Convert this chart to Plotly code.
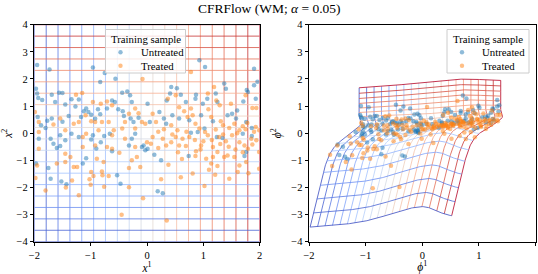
import numpy as np
import plotly.graph_objects as go

# ---------------- text ----------------
TITLE = "CFRFlow (WM; <i>α</i> = 0.05)"
LEGEND_TITLE = "Training sample"
NAME_UNTREATED = "Untreated"
NAME_TREATED = "Treated"
X_TICKS = [-2, -1, 0, 1, 2]
Y_TICKS = [-4, -3, -2, -1, 0, 1, 2, 3, 4]
X_RANGE = [-2, 2]
Y_RANGE = [-4, 4]
LABELS_LEFT = ("<i>x</i><sup>1</sup>", "<i>x</i><sup>2</sup>")
LABELS_RIGHT = ("<i>ϕ</i><sup>1</sup>", "<i>ϕ</i><sup>2</sup>")

# ---------------- grid lines (original coordinates) ----------------
GRID_X1 = [-2.0, -1.789, -1.579, -1.368, -1.158, -0.947, -0.737, -0.526, -0.316, -0.105,
           0.105, 0.316, 0.526, 0.737, 0.947, 1.158, 1.368, 1.579, 1.789, 2.0]
GRID_X2 = [-4.0, -3.579, -3.158, -2.737, -2.316, -1.895, -1.474, -1.053, -0.632, -0.211,
           0.211, 0.632, 1.053, 1.474, 1.895, 2.316, 2.737, 3.158, 3.579, 4.0]

# ---------------- training sample ----------------
UNTREATED_X1 = [-1.95, -1.73, -0.96, -0.75, -0.83, -0.56, -1.97, -1.69, -1.56, -1.50, -1.34, -1.45, -1.21,
                -1.27, -1.12, -1.08, -1.04, -0.99, -1.17, -0.92, -0.87, -0.83, -0.71, -0.62, -0.57, -0.44,
                -0.35, -0.30, -0.27, -0.51, -0.43, -0.41, -0.29, -0.24, -0.15, -1.94, -1.77, -1.88, -1.69,
                -1.50, -1.39, -1.80, -1.63, -1.95, -1.93, -1.86,
                0.93, 1.03, 1.90, 0.01, 0.43, 0.41, 0.35, 0.60, 0.69, 0.87, 0.86, 0.99, 1.07, 1.22, 1.25,
                1.37, 1.40, 1.51, 1.60, 1.71, 1.79, 1.90, 1.93, 0.22, 0.30, 0.34, 0.45, 0.57, 0.75, 0.96,
                1.02, 1.17, 1.43, 1.58, 1.76, 1.86, 0.05, 1.96, 1.77, 0.53,
                -1.92, -1.97, -1.71, -1.66, -1.60, -1.54, -1.45, -1.34, -1.21, -1.75, -1.71, -1.52, -1.43,
                -1.14, -1.08, -0.99, -0.96, -0.82, -0.76, -0.66, -0.62, -0.53, -0.47, -0.32, -0.27, -0.09,
                -0.03, -0.06, -0.21, -1.54, -0.90,
                0.01, 0.13, 0.25, 0.19, 0.28, 0.74, 0.78, 0.90, 1.34, 1.70, 1.76, 1.86, 1.24, 1.73]
UNTREATED_X2 = [2.51, 2.35, 2.42, 2.22, 1.89, 2.01, 1.64, 1.42, 1.49, 1.48, 1.25, 1.06, 1.24,
                0.98, 0.81, 0.91, 0.78, 0.68, 0.60, 0.53, 0.88, 0.70, 0.91, 1.21, 1.15, 1.49,
                1.54, 1.40, 1.15, 0.88, 0.81, 0.63, 0.54, 0.41, 0.57, 0.60, 0.46, 0.29, 0.54,
                0.42, 0.63, 0.19, 1.15, 1.46, 1.30, 1.22,
                2.69, 2.44, 2.38, 1.09, 1.70, 1.46, 1.21, 1.42, 1.15, 1.42, 1.27, 1.09, 1.27, 1.46, 1.15,
                1.83, 1.64, 0.72, 0.84, 1.17, 1.52, 1.77, 1.27, 0.78, 0.54, 0.35, 0.66, 0.54, 0.48, 0.66,
                0.17, 0.44, 0.66, 0.54, 0.41, 0.19, 0.41, 1.90, 1.59, 1.66,
                -0.20, -1.12, -0.20, -0.39, -0.55, -0.47, -0.26, -0.02, -0.14, -1.28, -1.68, -1.78, -1.88,
                -1.12, -0.92, -0.23, -0.08, -0.33, -0.10, -0.02, -0.67, -1.55, -1.86, -0.45, -0.20, -0.51,
                -0.63, -0.45, -0.02, -0.08, -0.56,
                -0.57, -0.79, -1.00, -2.14, -2.21, -0.84, 0.02, 0.04, -0.18, -0.02, -0.69, -0.10, -0.14, -0.84]

TREATED_X1 = [-1.15, -0.96, -1.09, -1.21, -0.99, -0.82, -0.71, -0.62, -0.80, -0.68, -0.32, -0.15, -0.21,
              -0.09, -1.92, -1.99, -1.66, -1.54, -1.45, -1.30, -0.92, -0.86, -0.59, -0.44, -0.39, -0.21,
              -0.03, -1.26, -0.08,
              0.78, 1.19, 1.08, 1.23, 1.29, 1.49, 1.75, 1.87, 1.94, 0.51, 0.37, 0.57, 0.66, 0.78, 0.81,
              1.09, 1.14, 1.31, 1.35, 1.55, 1.70, 1.78, 1.93, 1.99, 0.10, 0.16, 0.43, 0.54, 0.86, 0.93,
              1.03, 1.22, 1.46, 1.64, 0.72,
              -1.92, -1.95, -1.98, -1.80, -1.60, -1.45, -1.36, -1.30, -1.24, -1.33, -1.21, -1.14, -0.99,
              -0.95, -1.00, -0.92, -0.80, -0.79, -0.77, -0.68, -0.71, -0.62, -0.49, -0.45, -0.32, -0.32,
              -0.27, -0.18, -0.12, -0.21, -0.39, -0.89, -1.08, -1.45, -1.92, -1.14, -0.62, 0.00,
              -1.44, -1.02, -0.76, -0.07,
              0.07, 0.10, 0.28, 0.34, 0.38, 0.25, 0.35, 0.60, 0.57, 0.63, 0.69, 0.81, 0.86, 0.87, 1.02,
              1.05, 0.96, 1.14, 1.21, 1.17, 1.25, 1.37, 1.43, 1.55, 1.61, 1.64, 1.57, 1.51, 1.73, 1.76,
              1.79, 1.94, 1.99, 1.99, 1.46, 1.08, 1.40, 0.51, 0.43, 1.87, 1.64, 0.75, 1.17, 1.28,
              1.25, 1.80, 0.20, 0.45, 0.85, 1.00, 1.30, 1.60, 1.85, 0.30, 0.70, 1.15, 1.45, 1.70, 1.90,
              0.95, 0.55, 0.20, 1.35, 1.75, 0.62, 1.10]
TREATED_X2 = [1.48, 1.15, 0.66, 0.41, 0.44, 1.09, 1.17, 1.03, 0.41, 0.41, 0.72, 0.74, 0.91,
              0.41, 0.41, 0.78, 0.32, 0.54, 0.11, 0.35, 0.41, 0.11, 0.11, 0.17, 0.41, 0.17,
              0.35, 1.42, 2.00,
              2.26, 1.70, 1.46, 1.21, 1.03, 1.09, 1.40, 0.93, 0.93, 1.40, 1.27, 0.96, 0.81, 0.91, 0.66,
              0.88, 0.60, 0.44, 0.29, 0.35, 0.26, 0.38, 0.23, 0.11, 0.72, 0.41, 0.29, 0.11, 0.35, 0.17,
              0.04, 0.14, 0.19, 0.11, 0.60,
              -0.57, -1.19, -1.65, -2.11, -1.12, -1.06, -0.88, -1.25, -1.25, -1.74, -2.29, -0.51, -1.43,
              -1.58, -1.90, -0.45, -1.41, -1.55, -1.06, -1.58, -0.51, -0.57, -0.72, -3.01, -1.99, -1.28,
              -1.00, -0.88, -1.25, -0.51, -0.20, -0.94, -0.02, -0.76, 0.04, -0.14, -0.08, -0.33,
              -2.00, -1.70, -1.97, -2.40,
              -0.39, -0.14, -0.20, -0.45, -1.16, -1.70, -3.22, -1.62, -0.45, -0.20, -0.47, -1.49, -0.84,
              -0.67, -1.95, -0.94, -0.45, -1.12, -1.53, -0.88, -0.69, -0.88, -0.82, -0.88, -1.43, -1.19,
              -0.60, -0.08, -0.45, -1.06, -0.57, -0.26, -0.69, -1.31, -1.68, -0.08, -0.30, -0.14, -0.33,
              -0.42, -0.33, -0.14, -0.51, -0.14,
              -1.21, -1.48, 0.05, -0.05, -0.25, -0.30, -0.40, 0.00, -0.20, 0.15, 0.05, -0.25, -0.50,
              -0.70, 0.05, -0.60, -0.70, -0.55, -0.05, 0.15, -0.95, -1.35]

# ---------------- learned map phi (parameters estimated from the warped grid) ----------------
G_C, G_SLOPE_HI, G_SLOPE_LO, G_YC, G_W = 0.15, 0.38, 1.25, -1.6, 0.5
G_CURV = 0.03
T_YC, T_W = -0.75, 0.42
HUMP_BOTTOM = dict(tilt=0.09, amp=0.47, xp=1.14, sl=1.2, sr=0.6)
HUMP_TOP = dict(tilt=0.06, amp=0.15, xp=0.8, sl=1.5, sr=1.0)
DIP_AMP, DIP_X, DIP_SX, DIP_Y, DIP_SY = 0.2, 0.2, 1.3, 0.6, 1.3
C_BASE, C_DRIFT, D_YC, D_W, C_JUMP, C_SCALE = -0.394, 0.14, -1.6, 0.5, 0.53, 0.625
BUMP_AMP, BUMP_Y, BUMP_W = 0.05, 0.6, 0.5


def softplus(z):
    return np.logaddexp(0.0, z)


def sigmoid(z):
    return 1.0 / (1.0 + np.exp(-z))


def hump(x, p):
    s = np.where(x < p["xp"], p["sl"], p["sr"])
    return p["tilt"] * (x + 2.0) + p["amp"] * np.exp(-((x - p["xp"]) / s) ** 2)


def phi(x, y):
    x = np.asarray(x, dtype=float)
    y = np.asarray(y, dtype=float)
    up = np.clip(y - 0.2, 0, None)
    g = (G_C + G_SLOPE_HI * y - (G_SLOPE_LO - G_SLOPE_HI) * G_W * softplus(-(y - G_YC) / G_W)
         + G_CURV * (up ** 2 - 3.8 * up))
    t = sigmoid((y - T_YC) / T_W)
    h = (1 - t) * hump(x, HUMP_BOTTOM) + t * hump(x, HUMP_TOP)
    dip = DIP_AMP * np.exp(-((x - DIP_X) / DIP_SX) ** 2) * np.exp(-((y - DIP_Y) / DIP_SY) ** 2)
    ylow = -D_W * softplus(-(y - D_YC) / D_W)
    c1 = C_BASE + C_DRIFT * ylow + C_JUMP * t + BUMP_AMP * np.exp(-((y - BUMP_Y) / BUMP_W) ** 2)
    return c1 + C_SCALE * x, g + h - dip


def identity(x, y):
    return np.asarray(x, dtype=float), np.asarray(y, dtype=float)


# ---------------- colours ----------------
COOLWARM = [(0.0, (59, 76, 192)), (0.0625, (77, 104, 215)), (0.125, (98, 130, 234)),
            (0.1875, (119, 154, 247)), (0.25, (141, 176, 254)), (0.3125, (163, 194, 255)),
            (0.375, (184, 208, 249)), (0.4375, (204, 217, 238)), (0.5, (221, 221, 221)),
            (0.5625, (236, 211, 197)), (0.625, (245, 196, 173)), (0.6875, (247, 177, 148)),
            (0.75, (244, 154, 123)), (0.8125, (236, 127, 99)), (0.875, (222, 96, 77)),
            (0.9375, (203, 62, 56)), (1.0, (180, 4, 38))]
LINE_ALPHA = 0.8
C0 = "rgba(31,119,180,0.5)"
C1 = "rgba(255,127,14,0.5)"


def coolwarm(t, alpha=LINE_ALPHA):
    t = min(max(t, 0.0), 1.0)
    for (t0, c0), (t1, c1) in zip(COOLWARM[:-1], COOLWARM[1:]):
        if t <= t1:
            f = (t - t0) / (t1 - t0)
            r, g, b = [c0[i] + f * (c1[i] - c0[i]) for i in range(3)]
            return f"rgba({r:.0f},{g:.0f},{b:.0f},{alpha})"
    return f"rgba(180,4,38,{alpha})"


FONT = "Liberation Serif"
W, H = 538, 274
fig = go.Figure()

N_SAMP = 160
for ax, mapping in (("", identity), ("2", phi)):
    xa, ya = "x" + ax, "y" + ax
    ys = np.linspace(Y_RANGE[0], Y_RANGE[1], N_SAMP)
    xs = np.linspace(X_RANGE[0], X_RANGE[1], N_SAMP)
    for xv in GRID_X1:
        px, py = mapping(np.full_like(ys, xv), ys)
        fig.add_trace(go.Scatter(x=px, y=py, mode="lines", xaxis=xa, yaxis=ya, showlegend=False,
                                 hoverinfo="skip",
                                 line=dict(color=coolwarm((xv - X_RANGE[0]) / (X_RANGE[1] - X_RANGE[0])), width=1)))
    for yv in GRID_X2:
        px, py = mapping(xs, np.full_like(xs, yv))
        fig.add_trace(go.Scatter(x=px, y=py, mode="lines", xaxis=xa, yaxis=ya, showlegend=False,
                                 hoverinfo="skip",
                                 line=dict(color=coolwarm((yv - Y_RANGE[0]) / (Y_RANGE[1] - Y_RANGE[0])), width=1)))
    for name, X1, X2, col in ((NAME_UNTREATED, UNTREATED_X1, UNTREATED_X2, C0),
                              (NAME_TREATED, TREATED_X1, TREATED_X2, C1)):
        px, py = mapping(X1, X2)
        fig.add_trace(go.Scatter(x=px, y=py, mode="markers", name=name, xaxis=xa, yaxis=ya,
                                 showlegend=False, hoverinfo="skip",
                                 marker=dict(color=col, size=4.5, line=dict(width=0))))

L_DOM = [34.3 / W, 259.7 / W]
R_DOM = [309.0 / W, 535.5 / W]
Y_DOM = [(H - 241.7) / H, (H - 24.7) / H]

axis_common = dict(showgrid=False, zeroline=False, showline=True, mirror=True, linecolor="black",
                   linewidth=1, ticks="outside", ticklen=3.5, tickwidth=0.8, tickcolor="black",
                   tickfont=dict(family=FONT, size=10.5, color="black"), fixedrange=True)
title_font = dict(family=FONT, size=11.5, color="black")


# ---------------- legend boxes drawn in page pixels ----------------
def px_x(v):
    return v / W


def px_y(v):
    return 1 - v / H


shapes, annotations = [], []
for box_l, box_r in ((105.5, 185.5), (447.0, 529.0)):
    top, bot = 29.5, 73.0
    cx = (box_l + box_r) / 2
    shapes.append(dict(type="rect", xref="paper", yref="paper", layer="above",
                       x0=px_x(box_l), x1=px_x(box_r), y0=px_y(bot), y1=px_y(top),
                       fillcolor="rgba(255,255,255,0.8)", line=dict(color="rgb(204,204,204)", width=1)))
    annotations.append(dict(text=LEGEND_TITLE, x=px_x(cx), y=px_y(38.5), xref="paper", yref="paper",
                            showarrow=False, xanchor="center", yanchor="middle",
                            font=dict(family=FONT, size=10.8, color="black")))
    for row_y, name, col in ((52.3, NAME_UNTREATED, C0), (65.7, NAME_TREATED, C1)):
        mx, r = box_l + 15.0, 2.2
        shapes.append(dict(type="circle", xref="paper", yref="paper", layer="above",
                           x0=px_x(mx - r), x1=px_x(mx + r), y0=px_y(row_y + r), y1=px_y(row_y - r),
                           fillcolor=col, line=dict(width=0)))
        annotations.append(dict(text=name, x=px_x(box_l + 33.3), y=px_y(row_y), xref="paper", yref="paper",
                                showarrow=False, xanchor="left", yanchor="middle",
                                font=dict(family=FONT, size=10.8, color="black")))

annotations.append(dict(text=TITLE, x=0.5, y=px_y(8.5), xref="paper", yref="paper", showarrow=False,
                        font=dict(family=FONT, size=13.5, color="black"), xanchor="center", yanchor="middle"))

fig.update_layout(
    width=W, height=H, margin=dict(l=0, r=0, t=0, b=0, autoexpand=False),
    paper_bgcolor="white", plot_bgcolor="white", showlegend=False,
    xaxis=dict(domain=L_DOM, range=X_RANGE, tickvals=X_TICKS, anchor="y",
               title=dict(text=LABELS_LEFT[0], font=title_font, standoff=1), **axis_common),
    yaxis=dict(domain=Y_DOM, range=Y_RANGE, tickvals=Y_TICKS, anchor="x",
               title=dict(text=LABELS_LEFT[1], font=title_font, standoff=6), **axis_common),
    xaxis2=dict(domain=R_DOM, range=X_RANGE, tickvals=X_TICKS, anchor="y2",
                title=dict(text=LABELS_RIGHT[0], font=title_font, standoff=1), **axis_common),
    yaxis2=dict(domain=Y_DOM, range=Y_RANGE, tickvals=Y_TICKS, anchor="x2",
                title=dict(text=LABELS_RIGHT[1], font=title_font, standoff=7), **axis_common),
    shapes=shapes,
    annotations=annotations,
)

fig.write_html("out.html", config={"displayModeBar": False},
               post_script="document.body.style.margin='0';document.body.style.overflow='hidden';")
